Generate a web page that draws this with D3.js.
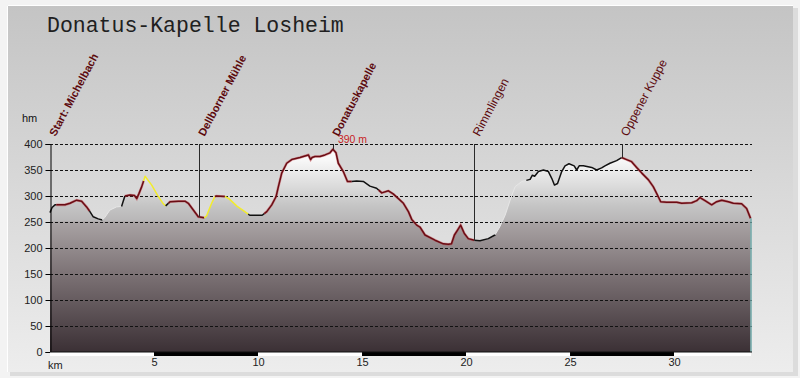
<!DOCTYPE html>
<html>
<head>
<meta charset="utf-8">
<script src="https://cdn.jsdelivr.net/npm/d3@7"></script>
<style>
  body { margin: 0; background: #f3f3f3; }
  svg { display: block; }
</style>
</head>
<body>
<div id="chart"></div>
<script>
(function () {

// profile: km / metres
var profileKm = [0, 0.1, 0.24, 0.72, 0.96, 1.28, 1.52, 1.76, 1.92, 2.08, 2.32, 2.52, 2.64, 2.88, 3.2, 3.44,
  3.6, 3.85, 4.06, 4.17, 4.28, 4.41, 4.5, 4.57, 4.89, 5.21, 5.45, 5.56, 5.77, 6.17, 6.49, 6.65, 6.89, 7.13,
  7.42, 7.53, 7.77, 7.93, 8.0, 8.41, 8.6, 9.0, 9.3, 9.53, 9.6, 10.2, 10.42, 10.66, 10.87, 10.98, 11.14,
  11.38, 11.62, 12.02, 12.42, 12.53, 12.6, 12.74, 12.98, 13.22, 13.46, 13.6, 13.75, 13.86, 14.1, 14.3,
  14.5, 14.74, 15.06, 15.38, 15.7, 15.95, 16.27, 16.5, 16.75, 16.99, 17.23, 17.39, 17.63, 17.79, 18.03,
  18.51, 18.91, 19.15, 19.3, 19.44, 19.6, 19.74, 19.92, 20.11, 20.4, 20.67, 21.07, 21.39, 21.63, 21.88,
  22.12, 22.36, 22.68, 22.9, 23.08, 23.19, 23.3, 23.48, 23.72, 23.96, 24.12, 24.25, 24.4, 24.6, 24.76,
  24.95, 25.2, 25.32, 25.44, 25.64, 26.04, 26.28, 26.52, 26.68, 26.92, 27.24, 27.48, 27.72, 27.96, 28.2,
  28.45, 28.77, 29.0, 29.2, 29.36, 29.65, 30.13, 30.37, 30.85, 31.09, 31.25, 31.49, 31.81, 32.05, 32.29,
  32.61, 32.85, 33.25, 33.49, 33.68]
var profileElev = [268, 278, 283, 283, 286, 292, 290, 279, 270, 260, 256, 254, 259, 273, 279, 280,
  300, 302, 301, 295, 305, 318, 329, 338, 321, 299, 285, 281, 289, 290, 290, 286, 273, 260,
  258, 262, 286, 299, 300, 299, 295, 280, 272, 265, 263, 263, 270, 283, 299, 318, 344,
  363, 370, 374, 379, 370, 374, 376, 376, 379, 383, 390, 383, 363, 347, 328,
  328, 329, 328, 319, 315, 306, 310, 304, 295, 286, 270, 255, 244, 240, 225,
  215, 208, 207, 208, 225, 235, 244, 228, 218, 215, 214, 218, 225, 241, 263,
  292, 318, 328, 330, 332, 340, 338, 347, 350, 347, 334, 321, 324, 347, 358,
  362, 358, 350, 358, 358, 355, 350, 354, 358, 363, 368, 374, 370, 366, 355,
  344, 331, 318, 302, 289, 288, 288, 286, 287, 291, 297, 291, 283, 289, 292,
  289, 286, 285, 276, 257]

// colour of the track line: start km, end km, kind
var segStart = [0, 0.3, 1.9, 2.52, 3.44, 3.6, 4.5, 5.56, 5.7, 7.42, 7.93, 8.41, 9.53, 10.3, 14.5, 15.8, 20.4, 21.4, 22.9, 27.48]
var segEnd   = [0.3, 1.9, 2.52, 3.44, 3.6, 4.5, 5.56, 5.7, 7.42, 7.93, 8.41, 9.53, 10.3, 14.5, 15.8, 20.4, 21.4, 22.9, 27.48, 33.68]
var segKind  = ['k', 'r', 'k', 'w', 'k', 'r', 'y', 'k', 'r', 'y', 'r', 'y', 'k', 'r', 'k', 'r', 'k', 'w', 'k', 'r']

var waypointNames = ['Start: Michelbach', 'Dellborner Mühle', 'Donatuskapelle', 'Rimmlingen', 'Oppener Kuppe']
var waypointKm = [0, 7.16, 13.6, 20.38, 27.5]
var waypointBold = [true, true, true, false, false]

var yTicks = [0, 50, 100, 150, 200, 250, 300, 350, 400]
var xTicks = [5, 10, 15, 20, 25, 30]
var totalKm = 33.7
var maxElev = 390

var width = 800, height = 378

var svg = d3.select('#chart').append('svg')
    .attr('width', width)
    .attr('height', height)

var defs = svg.append('defs')

var panelGrad = defs.append('linearGradient')
    .attr('id', 'panel')
    .attr('x1', 0).attr('y1', 0).attr('x2', 0).attr('y2', 1)
panelGrad.append('stop').attr('offset', '0%').attr('stop-color', '#c4c4c4')
panelGrad.append('stop').attr('offset', '100%').attr('stop-color', '#ededed')

var x = d3.scaleLinear().domain([0, totalKm]).range([50, 751])
var y = d3.scaleLinear().domain([0, 400]).range([352, 144])

// fill under the profile, coloured by height
var areaGrad = defs.append('linearGradient')
    .attr('id', 'areafill')
    .attr('gradientUnits', 'userSpaceOnUse')
    .attr('x1', 0).attr('x2', 0)
    .attr('y1', y(400)).attr('y2', y(0))
var areaStops = [[400, '#ffffff'], [370, '#f8f8f8'], [320, '#dcdcdc'], [280, '#c4c4c4'], [252, '#b8b6b7'],
  [250, '#a9a3a4'], [150, '#7c7275'], [0, '#3b3035']]
areaStops.forEach(function (s) {
  areaGrad.append('stop')
    .attr('offset', ((400 - s[0]) / 400 * 100) + '%')
    .attr('stop-color', s[1])
})

// panel with a soft shadow
svg.append('rect')
    .attr('x', 10).attr('y', 8)
    .attr('width', 788).attr('height', 368)
    .attr('fill', '#dcdcdc')
svg.append('rect')
    .attr('x', 7).attr('y', 5)
    .attr('width', 786).attr('height', 367)
    .attr('fill', 'url(#panel)')
svg.append('path')
    .attr('d', 'M7.5,372 L7.5,5.5 L793,5.5')
    .attr('fill', 'none')
    .attr('stroke', '#ffffff')

svg.append('text')
    .text('Donatus-Kapelle Losheim')
    .attr('x', 47)
    .attr('y', 32)
    .attr('font-family', '"Liberation Mono", "Courier New", monospace')
    .attr('font-size', 21.5)
    .attr('fill', '#202020')

var points = profileKm.map(function (k, i) { return { km: k, elev: profileElev[i] } })

var area = d3.area()
    .x(function (d) { return x(d.km) })
    .y0(y(0))
    .y1(function (d) { return y(d.elev) })

svg.append('path')
    .datum(points)
    .attr('d', area)
    .attr('fill', 'url(#areafill)')

// grid
svg.selectAll('.grid')
    .data(yTicks.filter(function (t) { return t > 0 }))
    .enter().append('line')
    .attr('class', 'grid')
    .attr('x1', 50).attr('x2', 752)
    .attr('y1', function (d) { return Math.round(y(d)) + 0.5 })
    .attr('y2', function (d) { return Math.round(y(d)) + 0.5 })
    .attr('stroke', '#111')
    .attr('stroke-dasharray', '3,2')

// interpolate height at a km
var bisect = d3.bisector(function (d) { return d.km }).left
function elevAt(k) {
  var i = bisect(points, k)
  if (i <= 0) return points[0].elev
  if (i >= points.length) return points[points.length - 1].elev
  var a = points[i - 1], b = points[i]
  return a.elev + (b.elev - a.elev) * (k - a.km) / (b.km - a.km)
}

var line = d3.line()
    .x(function (d) { return x(d.km) })
    .y(function (d) { return y(d.elev) })

var kindColor = { r: '#6a0c14', k: '#111111', y: '#f2ec2c', w: '#e6e6e6' }

segKind.forEach(function (kind, i) {
  var a = segStart[i], b = segEnd[i]
  var pts = [{ km: a, elev: elevAt(a) }]
  points.forEach(function (p) { if (p.km > a && p.km < b) pts.push(p) })
  pts.push({ km: b, elev: elevAt(b) })
  if (kind === 'r') {
    svg.append('path')
      .datum(pts)
      .attr('d', line)
      .attr('fill', 'none')
      .attr('stroke', '#c23a40')
      .attr('stroke-opacity', 0.45)
      .attr('stroke-width', 2.6)
  }
  svg.append('path')
    .datum(pts)
    .attr('d', line)
    .attr('fill', 'none')
    .attr('stroke', kindColor[kind])
    .attr('stroke-width', kind === 'w' ? 1 : 1.5)
    .attr('stroke-linejoin', 'round')
})

// end of track
svg.append('line')
    .attr('x1', x(totalKm)).attr('x2', x(totalKm))
    .attr('y1', y(elevAt(33.68))).attr('y2', y(0))
    .attr('stroke', '#6fa9a8')
    .attr('stroke-width', 1.5)

// y axis
var yAxis = d3.axisLeft(y)
    .tickValues(yTicks)
    .tickSize(5)
    .tickPadding(3)
svg.append('g')
    .attr('class', 'axis y-axis')
    .attr('transform', 'translate(50.5,0)')
    .call(yAxis)
svg.selectAll('.y-axis path').attr('stroke', '#000')
svg.selectAll('.y-axis line').attr('stroke', '#000')
svg.selectAll('.y-axis text')
    .attr('font-family', '"Liberation Sans", Arial, sans-serif')
    .attr('font-size', 11)
    .attr('fill', '#222')

svg.append('text')
    .text('hm')
    .attr('x', 22).attr('y', 122)
    .attr('font-family', '"Liberation Sans", Arial, sans-serif')
    .attr('font-size', 11)
    .attr('fill', '#111')

// km band
var bands = d3.range(0, totalKm, 5)
svg.selectAll('.band')
    .data(bands)
    .enter().append('rect')
    .attr('class', 'band')
    .attr('x', function (d) { return x(d) })
    .attr('y', 352)
    .attr('width', function (d) { return x(Math.min(d + 5, totalKm)) - x(d) })
    .attr('height', 4)
    .attr('fill', function (d, i) { return i % 2 === 0 ? '#ffffff' : '#000000' })
svg.append('line')
    .attr('x1', 50).attr('x2', 752)
    .attr('y1', 352).attr('y2', 352)
    .attr('stroke', '#111')
    .attr('stroke-width', 1)

var xAxis = d3.axisBottom(x)
    .tickValues(xTicks)
    .tickSize(0)
    .tickPadding(0)
svg.append('g')
    .attr('class', 'axis x-axis')
    .attr('transform', 'translate(0,358)')
    .call(xAxis)
svg.select('.x-axis .domain').remove()
svg.selectAll('.x-axis text')
    .attr('font-family', '"Liberation Sans", Arial, sans-serif')
    .attr('font-size', 11)
    .attr('fill', '#222')

svg.append('text')
    .text('km')
    .attr('x', 48).attr('y', 369)
    .attr('font-family', '"Liberation Sans", Arial, sans-serif')
    .attr('font-size', 11)
    .attr('fill', '#222')

// waypoints
waypointNames.forEach(function (name, i) {
  var xm = Math.round(x(waypointKm[i])) + 0.5
  if (i > 0) {
    svg.append('line')
      .attr('x1', xm).attr('x2', xm)
      .attr('y1', y(400)).attr('y2', y(elevAt(waypointKm[i])))
      .attr('stroke', '#2a2a2a')
      .attr('stroke-width', 1)
  }
  svg.append('text')
    .text(name)
    .attr('transform', 'translate(' + (xm + 5) + ',137) rotate(-62)')
    .attr('font-family', '"Liberation Sans", Arial, sans-serif')
    .attr('font-size', waypointBold[i] ? 11 : 12)
    .attr('font-weight', waypointBold[i] ? 'bold' : 'normal')
    .attr('fill', '#5c0a0e')
})

svg.append('text')
    .text(maxElev + ' m')
    .attr('x', x(13.6) + 5)
    .attr('y', 143)
    .attr('font-family', '"Liberation Sans", Arial, sans-serif')
    .attr('font-size', 10.5)
    .attr('fill', '#c81e24')

})()
</script>
</body>
</html>
